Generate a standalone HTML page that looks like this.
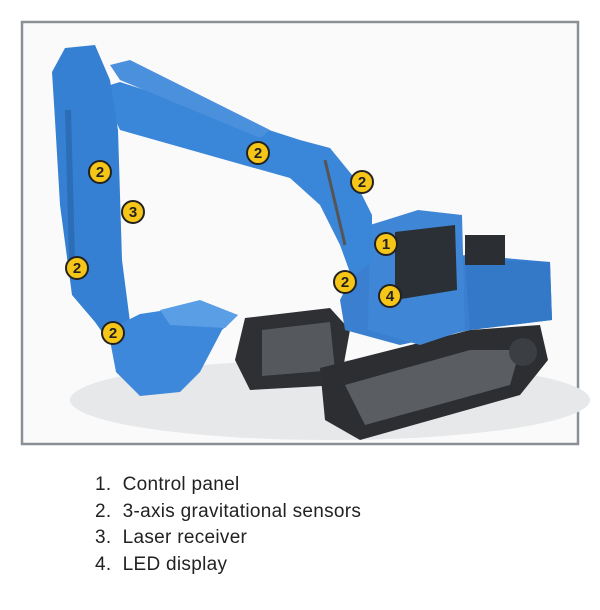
<!DOCTYPE html>
<html><head><style>
body{margin:0;width:600px;height:610px;background:#fff;overflow:hidden;font-family:"Liberation Sans",sans-serif}
.leg{position:absolute;left:95px;top:472px;font-size:19px;color:#222;line-height:26.5px;letter-spacing:0.3px}
</style></head><body>
<svg width="600" height="460" style="position:absolute;left:0;top:0">
<rect x="22" y="22" width="556" height="422" fill="#fafafa" stroke="#8a9096" stroke-width="2.5"/>
<ellipse cx="330" cy="400" rx="260" ry="40" fill="#e6e8ea"/>
<polygon points="245,318 330,308 350,330 340,385 250,390 235,360" fill="#2e3033"/>
<polygon points="262,330 330,322 335,370 262,376" fill="#55595e"/>
<polygon points="320,368 470,330 540,325 548,360 520,395 360,440 325,420" fill="#2c2e31"/>
<polygon points="345,385 470,350 520,350 510,385 365,425" fill="#5a5e63"/>
<circle cx="523" cy="352" r="14" fill="#3b3e42"/>
<polygon points="340,300 360,260 470,255 550,262 552,320 470,330 400,345 345,330" fill="#3a7fd0"/>
<polygon points="465,260 550,262 552,320 470,330" fill="#3478c8"/>
<polygon points="370,225 418,210 462,215 465,330 420,345 368,330" fill="#3f86d6"/>
<polygon points="395,232 455,225 457,290 395,300" fill="#2a3036"/>
<rect x="465" y="235" width="40" height="30" fill="#2b2f33"/>
<polygon points="100,88 120,82 300,140 330,148 352,175 372,215 372,262 352,278 340,245 320,205 290,178 240,164 120,130" fill="#3a86d8"/>
<polygon points="110,65 130,60 270,130 260,138 120,80" fill="#4a90dc"/>
<line x1="325" y1="160" x2="345" y2="245" stroke="#555" stroke-width="3"/>
<polygon points="52,72 65,48 95,45 110,80 118,130 122,260 130,322 112,346 95,322 72,295 60,205 55,120" fill="#3580d2"/>
<line x1="68" y1="110" x2="72" y2="260" stroke="#2c6db8" stroke-width="6"/>
<polygon points="108,330 140,314 200,305 238,315 222,330 200,372 180,392 140,396 116,372" fill="#3d88da"/>
<polygon points="160,310 200,300 238,315 225,328 170,325" fill="#5a9ee6"/>
<g fill="#f5c518" stroke="#222" stroke-width="2">
<circle cx="258" cy="153" r="11"/><circle cx="100" cy="172" r="11"/><circle cx="133" cy="212" r="11"/>
<circle cx="362" cy="182" r="11"/><circle cx="386" cy="244" r="11"/><circle cx="345" cy="282" r="11"/>
<circle cx="390" cy="296" r="11"/><circle cx="77" cy="268" r="11"/><circle cx="113" cy="333" r="11"/>
</g>
<g fill="#222" font-family="Liberation Sans,sans-serif" font-weight="bold" font-size="15" text-anchor="middle">
<text x="258" y="158">2</text><text x="100" y="177">2</text><text x="133" y="217">3</text>
<text x="362" y="187">2</text><text x="386" y="249">1</text><text x="345" y="287">2</text>
<text x="390" y="301">4</text><text x="77" y="273">2</text><text x="113" y="338">2</text>
</g>
</svg>
<div class="leg">1.&nbsp; Control panel<br>2.&nbsp; 3-axis gravitational sensors<br>3.&nbsp; Laser receiver<br>4.&nbsp; LED display</div>
</body></html>
